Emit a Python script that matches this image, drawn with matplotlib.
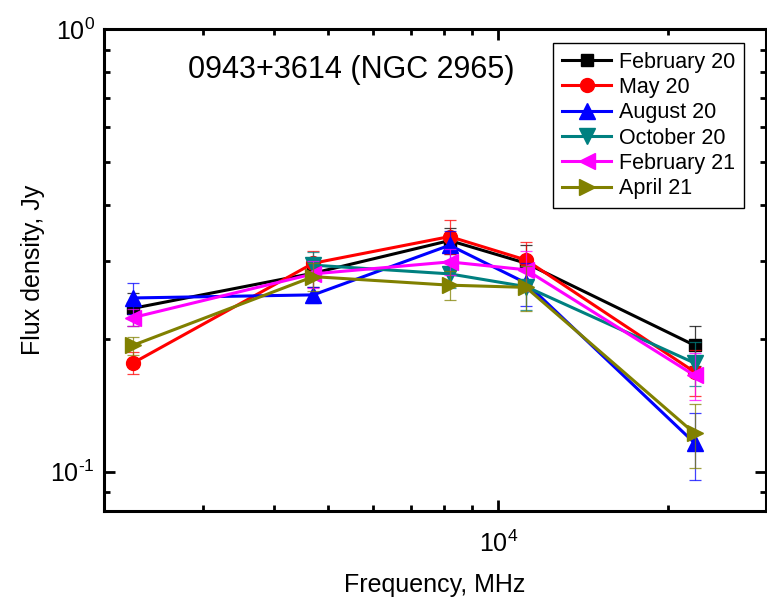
import numpy as np
import matplotlib
matplotlib.use("Agg")
import matplotlib.pyplot as plt
from matplotlib.ticker import FixedLocator, FuncFormatter, NullFormatter

plt.rcParams['font.family'] = ['Liberation Sans', 'DejaVu Sans']
plt.rcParams['mathtext.fontset'] = 'custom'
plt.rcParams['mathtext.rm'] = 'Liberation Sans'
plt.rcParams['mathtext.it'] = 'Liberation Sans'
plt.rcParams['mathtext.default'] = 'regular'
plt.rcParams['axes.unicode_minus'] = False

freq_mhz = [2250, 4700, 8200, 11200, 22300]
series_names = ["February 20", "May 20", "August 20", "October 20", "February 21", "April 21"]
feb20 = [0.234, 0.281, 0.333, 0.296, 0.193]
may20 = [0.176, 0.296, 0.340, 0.301, 0.168]
aug20 = [0.247, 0.251, 0.325, 0.267, 0.116]
oct20 = [np.nan, 0.293, 0.280, 0.262, 0.176]
feb21 = [0.223, 0.280, 0.298, 0.286, 0.165]
apr21 = [0.193, 0.276, 0.264, 0.261, 0.122]
feb20_err = [0.02, 0.02, 0.022, 0.03, 0.02]
may20_err = [0.01, 0.02, 0.03, 0.03, 0.02]
aug20_err = [0.02, 0.01, 0.025, 0.03, 0.02]
oct20_err = [0.0, 0.02, 0.02, 0.03, 0.02]
feb21_err = [0.01, 0.02, 0.02, 0.03, 0.02]
apr21_err = [0.009, 0.02, 0.02, 0.03, 0.02]
title_text = "0943+3614 (NGC 2965)"

values = [feb20, may20, aug20, oct20, feb21, apr21]
errors = [feb20_err, may20_err, aug20_err, oct20_err, feb21_err, apr21_err]
colors = ['#000000', '#FF0000', '#0000FF', '#008080', '#FF00FF', '#808000']
markers = ['s', 'o', '^', 'v', '<', '>']
msizes = [8, 10, 11, 11, 11, 11]

fig = plt.figure(figsize=(7.67, 6.01), dpi=100)
ax = fig.add_axes([0.1356, 0.1502, 0.8627, 0.801])

for v, e, c, m, ms, name in zip(values, errors, colors, markers, msizes, series_names):
    ax.errorbar(freq_mhz, v, yerr=e, fmt='none', ecolor=c, elinewidth=0.9,
                capsize=4, capthick=0.9, alpha=0.75)
    ax.plot(freq_mhz, v, color=c, lw=2.2, marker=m, ms=ms, mec=c, mfc=c, label=name)

ax.set_xscale('log')
ax.set_yscale('log')
ax.set_xlim(2000, 29800)
ax.set_ylim(0.0816, 1.0)

ax.xaxis.set_major_locator(FixedLocator([1e4]))
ax.xaxis.set_minor_locator(FixedLocator([3000, 4000, 5000, 6000, 7000, 8000, 9000, 20000]))
ax.yaxis.set_major_locator(FixedLocator([0.1, 1.0]))
ax.yaxis.set_minor_locator(FixedLocator([0.09, 0.2, 0.3, 0.4, 0.5, 0.6, 0.7, 0.8, 0.9]))

def fmt(v, pos):
    p = int(round(np.log10(v)))
    if p < 0:
        return r'$10^{\text{-}%d}$' % (-p)
    return r'$10^{%d}$' % p

ax.xaxis.set_major_formatter(FuncFormatter(fmt))
ax.yaxis.set_major_formatter(FuncFormatter(fmt))
ax.xaxis.set_minor_formatter(NullFormatter())
ax.yaxis.set_minor_formatter(NullFormatter())

ax.tick_params(which='both', direction='in', top=True, right=True, width=2, labelsize=18)
ax.tick_params(which='major', length=8)
ax.tick_params(which='minor', length=4)
ax.tick_params(axis='y', which='major', pad=6.5)
ax.tick_params(axis='x', which='major', pad=14)
for s in ax.spines.values():
    s.set_linewidth(2.2)

ax.set_xlabel("Frequency, MHz", fontsize=18, labelpad=12)
ax.set_ylabel("Flux density, Jy", fontsize=18, labelpad=4)

ax.text(0.127, 0.915, title_text, transform=ax.transAxes, fontsize=22, ha='left', va='center')

leg = ax.legend(loc='upper right', bbox_to_anchor=(0.967, 0.9715), borderaxespad=0,
                fontsize=15.5, frameon=True, fancybox=False, framealpha=1, edgecolor='black',
                handlelength=2.3, handletextpad=0.35, labelspacing=0.2, borderpad=0.4,
                numpoints=1)
leg.get_frame().set_linewidth(1.0)

fig.savefig("out.png", dpi=100)
